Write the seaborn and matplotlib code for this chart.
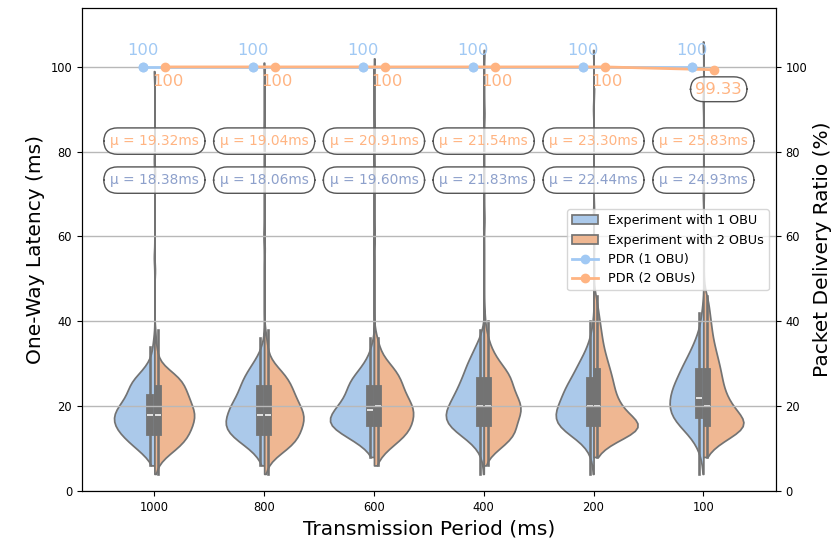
import matplotlib
matplotlib.use("Agg")
import matplotlib.pyplot as plt
import numpy as np
import pandas as pd
import seaborn as sns

periods = ["1000", "800", "600", "400", "200", "100"]
setups = ["Experiment with 1 OBU", "Experiment with 2 OBUs"]

bins = [4, 6, 8, 10, 12, 14, 16, 18, 20, 22, 24, 26, 28, 30, 32, 34, 36, 38, 40, 42, 44, 46]

counts_1obu = [
    [0, 2, 8, 18, 28, 36, 41, 41, 36, 29, 26, 23, 14, 7, 3, 2, 1, 0, 0, 0, 0, 0],
    [0, 2, 7, 16, 30, 40, 43, 40, 37, 31, 27, 24, 19, 13, 7, 3, 1, 0, 0, 0, 0, 0],
    [0, 0, 2, 9, 22, 38, 48, 45, 38, 31, 28, 25, 18, 11, 6, 3, 1, 0, 0, 0, 0, 0],
    [1, 1, 3, 8, 18, 32, 42, 44, 40, 35, 30, 26, 22, 19, 14, 10, 5, 2, 0, 0, 0, 0],
    [1, 1, 3, 7, 16, 30, 39, 40, 37, 33, 30, 25, 20, 16, 11, 7, 4, 2, 1, 0, 0, 0],
    [1, 1, 3, 6, 11, 19, 28, 34, 36, 35, 33, 29, 25, 21, 16, 12, 8, 5, 3, 2, 1, 0],
]
counts_2obu = [
    [1, 3, 10, 21, 29, 33, 36, 38, 35, 32, 29, 26, 17, 6, 3, 2, 1, 1, 0, 0, 0, 0],
    [1, 3, 10, 22, 30, 33, 36, 37, 33, 29, 26, 23, 17, 9, 4, 3, 2, 1, 0, 0, 0, 0],
    [0, 2, 6, 14, 25, 33, 36, 38, 37, 32, 28, 26, 22, 15, 8, 5, 3, 1, 0, 0, 0, 0],
    [0, 1, 4, 14, 24, 29, 28, 33, 34, 30, 26, 25, 22, 15, 10, 6, 4, 2, 1, 1, 0, 0],
    [0, 0, 2, 7, 20, 40, 42, 28, 23, 19, 17, 16, 14, 12, 10, 8, 7, 6, 5, 4, 3, 2],
    [0, 0, 2, 8, 20, 38, 44, 35, 28, 23, 20, 18, 17, 15, 13, 11, 9, 8, 7, 6, 5, 4],
]
# rare late packets (long thin tails)
outliers_1obu = [[55, 78, 99], [60, 84, 101], [58, 80, 100], [62, 88, 103], [65, 90, 104], [70, 92, 106]]
outliers_2obu = [[52, 75, 98], [57, 82, 100], [60, 85, 102], [64, 89, 104], [52, 58, 66, 95], [50, 55, 60, 70, 98]]

mu_1obu = [18.38, 18.06, 19.60, 21.83, 22.44, 24.93]
mu_2obu = [19.32, 19.04, 20.91, 21.54, 23.30, 25.83]

pdr_1obu = [100, 100, 100, 100, 100, 100]
pdr_2obu = [100, 100, 100, 100, 100, 99.33]

rows = []
for i, p in enumerate(periods):
    for setup, cnts, outs in ((setups[0], counts_1obu[i], outliers_1obu[i]),
                              (setups[1], counts_2obu[i], outliers_2obu[i])):
        vals = list(np.repeat(bins, cnts)) + outs
        rows += [(p, setup, float(v)) for v in vals]
df = pd.DataFrame(rows, columns=["period", "setup", "latency"])

blue, orange = sns.color_palette("pastel")[:2]
mu_blue = "#8da0cb"
grid_c = "#b8b8b8"

fig = plt.figure(figsize=(8.36, 5.4), dpi=100)
ax1 = fig.add_axes([0.098, 0.091, 0.830, 0.895])
ax1.grid(axis="x", color=grid_c, lw=1.0)
ax1.set_axisbelow(True)

sns.violinplot(data=df, x="period", y="latency", hue="setup", order=periods,
               hue_order=setups, split=True, inner="box", cut=0, bw_adjust=0.6,
               palette="pastel", ax=ax1)
handles, labels = ax1.get_legend_handles_labels()
ax1.get_legend().remove()

ax1.set_xlim(-0.66, 5.66)
ax1.set_ylim(0, 114)
ax1.set_xlabel("Transmission Period (ms)", fontsize=14.5)
ax1.set_ylabel("One-Way Latency (ms)", fontsize=14.5)
ax1.tick_params(labelsize=8.3)

ax2 = ax1.twinx()
ax2.set_ylim(0, 114)
ax2.set_yticks([0, 20, 40, 60, 80, 100])
ax2.grid(axis="y", color=grid_c, lw=1.0)
ax2.set_ylabel("Packet Delivery Ratio (%)", fontsize=14.5)
ax2.tick_params(labelsize=8.3)

x = np.arange(len(periods))
l1, = ax2.plot(x - 0.1, pdr_1obu, "-o", color=blue, lw=2, ms=6, label="PDR (1 OBU)")
l2, = ax2.plot(x + 0.1, pdr_2obu, "-o", color=orange, lw=2, ms=6, label="PDR (2 OBUs)")
ax2.plot(x - 0.1, pdr_1obu, "o", color=blue, ms=6, zorder=3)

for i in range(len(periods)):
    ax2.text(x[i] - 0.1, pdr_1obu[i] + 3.8, f"{pdr_1obu[i]:g}", color=blue,
             fontsize=11.8, ha="center", va="center")
    if pdr_2obu[i] < 100:
        ax2.text(x[i] + 0.14, pdr_2obu[i] - 4.6, f"{pdr_2obu[i]:g}", color=orange,
                 fontsize=11.8, ha="center", va="center",
                 bbox=dict(boxstyle="round,pad=0.3,rounding_size=0.8",
                           fc=(1, 1, 1, 0.75), ec="#555555", lw=1))
    else:
        ax2.text(x[i] + 0.12, pdr_2obu[i] - 3.5, f"{pdr_2obu[i]:g}", color=orange,
                 fontsize=11.8, ha="center", va="center")

    box = dict(boxstyle="round,pad=0.45,rounding_size=1.0",
               fc=(1, 1, 1, 0.75), ec="#555555", lw=1)
    ax2.text(x[i], 82.5, f"μ = {mu_2obu[i]:.2f}ms", color=orange, fontsize=9.9,
             ha="center", va="center", bbox=box)
    ax2.text(x[i], 73.3, f"μ = {mu_1obu[i]:.2f}ms", color=mu_blue, fontsize=9.9,
             ha="center", va="center", bbox=box)

ax2.legend(handles + [l1, l2], labels + ["PDR (1 OBU)", "PDR (2 OBUs)"],
           loc="upper right", bbox_to_anchor=(0.99, 0.583), borderaxespad=0,
           fontsize=9.2)

fig.savefig("out.png", dpi=100)
